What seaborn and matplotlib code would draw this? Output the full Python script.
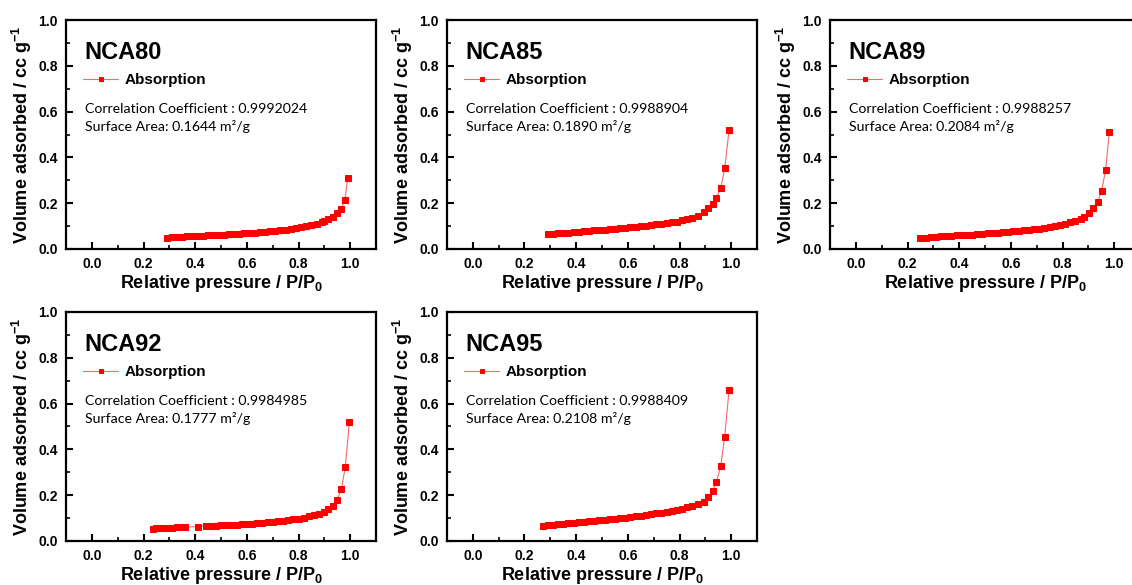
import numpy as np
import pandas as pd
import matplotlib
matplotlib.use('Agg')
import matplotlib.pyplot as plt
import seaborn as sns
from matplotlib.ticker import MultipleLocator

# --- Data ---
samples = ['NCA80', 'NCA85', 'NCA89', 'NCA92', 'NCA95']
corr_coef = ['0.9992024', '0.9988904', '0.9988257', '0.9984985', '0.9988409']
surface_area = ['0.1644', '0.1890', '0.2084', '0.1777', '0.2108']

p_nca80 = [0.29, 0.31, 0.33, 0.35, 0.37, 0.39, 0.41, 0.43, 0.45, 0.47, 0.49, 0.51,
           0.53, 0.55, 0.57, 0.59, 0.61, 0.63, 0.65, 0.67, 0.69, 0.71, 0.73, 0.75,
           0.77, 0.79, 0.81, 0.83, 0.85, 0.87, 0.89, 0.90, 0.916, 0.933, 0.949,
           0.965, 0.98, 0.99]
v_nca80 = [0.049, 0.051, 0.052, 0.053, 0.055, 0.056, 0.057, 0.058, 0.059, 0.060,
           0.062, 0.063, 0.064, 0.066, 0.067, 0.068, 0.070, 0.071, 0.073, 0.075,
           0.077, 0.079, 0.081, 0.084, 0.087, 0.091, 0.094, 0.099, 0.104, 0.110,
           0.117, 0.122, 0.131, 0.141, 0.157, 0.176, 0.214, 0.31]

p_nca85 = [0.29, 0.31, 0.33, 0.35, 0.37, 0.39, 0.41, 0.43, 0.45, 0.47, 0.49, 0.51,
           0.53, 0.55, 0.57, 0.59, 0.61, 0.63, 0.65, 0.67, 0.69, 0.71, 0.73, 0.75,
           0.77, 0.79, 0.81, 0.83, 0.85, 0.87, 0.896, 0.911, 0.928, 0.943, 0.96,
           0.975, 0.992]
v_nca85 = [0.064, 0.066, 0.068, 0.070, 0.072, 0.074, 0.076, 0.078, 0.080, 0.081,
           0.083, 0.084, 0.086, 0.088, 0.090, 0.092, 0.094, 0.096, 0.099, 0.101,
           0.104, 0.107, 0.110, 0.113, 0.117, 0.120, 0.125, 0.130, 0.136, 0.144,
           0.162, 0.178, 0.196, 0.224, 0.268, 0.352, 0.52]

p_nca89 = [0.25, 0.27, 0.29, 0.31, 0.33, 0.35, 0.37, 0.39, 0.41, 0.43, 0.45, 0.47,
           0.49, 0.51, 0.53, 0.55, 0.57, 0.59, 0.61, 0.63, 0.65, 0.67, 0.69, 0.71,
           0.73, 0.75, 0.77, 0.79, 0.81, 0.83, 0.85, 0.87, 0.885, 0.903, 0.919,
           0.936, 0.951, 0.967, 0.981]
v_nca89 = [0.049, 0.050, 0.052, 0.053, 0.055, 0.056, 0.058, 0.059, 0.060, 0.062,
           0.063, 0.065, 0.066, 0.068, 0.069, 0.071, 0.073, 0.075, 0.077, 0.079,
           0.081, 0.084, 0.086, 0.089, 0.093, 0.096, 0.100, 0.105, 0.110, 0.116,
           0.124, 0.133, 0.141, 0.156, 0.178, 0.204, 0.253, 0.345, 0.51]

p_nca92 = [0.235, 0.25, 0.27, 0.29, 0.31, 0.33, 0.35, 0.36, 0.41, 0.44, 0.46, 0.48,
           0.50, 0.52, 0.54, 0.56, 0.58, 0.60, 0.62, 0.64, 0.66, 0.68, 0.70, 0.72,
           0.74, 0.76, 0.78, 0.80, 0.82, 0.84, 0.86, 0.88, 0.90, 0.916, 0.933,
           0.949, 0.966, 0.981, 0.997]
v_nca92 = [0.052, 0.055, 0.056, 0.057, 0.058, 0.059, 0.060, 0.060, 0.063, 0.065,
           0.066, 0.067, 0.068, 0.069, 0.070, 0.071, 0.073, 0.074, 0.076, 0.077,
           0.079, 0.081, 0.083, 0.086, 0.088, 0.091, 0.095, 0.097, 0.102, 0.107,
           0.113, 0.120, 0.127, 0.138, 0.153, 0.179, 0.227, 0.322, 0.52]

p_nca95 = [0.27, 0.29, 0.31, 0.33, 0.35, 0.37, 0.39, 0.41, 0.43, 0.45, 0.47, 0.49,
           0.51, 0.53, 0.55, 0.57, 0.59, 0.61, 0.63, 0.65, 0.67, 0.69, 0.71, 0.73,
           0.75, 0.77, 0.79, 0.81, 0.83, 0.85, 0.87, 0.896, 0.911, 0.928, 0.943,
           0.96, 0.975, 0.992]
v_nca95 = [0.066, 0.069, 0.071, 0.073, 0.075, 0.077, 0.080, 0.082, 0.084, 0.086,
           0.088, 0.090, 0.092, 0.095, 0.097, 0.100, 0.102, 0.105, 0.108, 0.111,
           0.114, 0.117, 0.121, 0.124, 0.128, 0.132, 0.136, 0.141, 0.147, 0.153,
           0.160, 0.172, 0.194, 0.220, 0.258, 0.329, 0.456, 0.659]

pressures = [p_nca80, p_nca85, p_nca89, p_nca92, p_nca95]
volumes = [v_nca80, v_nca85, v_nca89, v_nca92, v_nca95]

# --- Style ---
sns.set_style('white')
plt.rcParams['font.family'] = ['Liberation Sans', 'DejaVu Sans']
plt.rcParams['mathtext.fontset'] = 'custom'
plt.rcParams['mathtext.rm'] = 'Liberation Sans'
plt.rcParams['mathtext.bf'] = 'Liberation Sans:bold'
plt.rcParams['text.color'] = 'black'
plt.rcParams['axes.labelcolor'] = 'black'
plt.rcParams['xtick.color'] = 'black'
plt.rcParams['ytick.color'] = 'black'

W, H = 1132, 585
fig = plt.figure(figsize=(W / 100, H / 100), dpi=100)

col_left = [66, 447, 830]
row_top = [20, 312]
ax_w, ax_h = 310, 229

for i, name in enumerate(samples):
    r, c = divmod(i, 3)
    left = col_left[c] / W
    bottom = 1 - (row_top[r] + ax_h) / H
    ax = fig.add_axes([left, bottom, ax_w / W, ax_h / H])

    df = pd.DataFrame({'p': pressures[i], 'v': volumes[i]})
    sns.lineplot(data=df, x='p', y='v', ax=ax, color='#f26a6a', linewidth=0.8,
                 marker='s', markersize=5, markerfacecolor='#ff0000',
                 markeredgecolor='#ff0000', estimator=None, sort=False,
                 label='Absorption')

    ax.set_xlim(-0.1, 1.1)
    ax.set_ylim(0, 1.0)
    ax.xaxis.set_major_locator(MultipleLocator(0.2))
    ax.xaxis.set_minor_locator(MultipleLocator(0.1))
    ax.yaxis.set_major_locator(MultipleLocator(0.2))
    ax.yaxis.set_minor_locator(MultipleLocator(0.1))
    ax.set_xticks([0.0, 0.2, 0.4, 0.6, 0.8, 1.0])
    ax.tick_params(which='major', direction='in', length=5, width=1.5,
                   labelsize=10, pad=6)
    ax.tick_params(which='minor', direction='in', length=3, width=1.2)
    ax.tick_params(left=True, bottom=True, which='both')
    for lab in ax.get_xticklabels() + ax.get_yticklabels():
        lab.set_fontweight('bold')
    for sp in ax.spines.values():
        sp.set_linewidth(1.6)
        sp.set_color('black')

    ax.set_xlabel(r'Relative pressure / P/P$_{\mathbf{0}}$', fontsize=13,
                  fontweight='bold', labelpad=1)
    ax.set_ylabel(r'Volume adsorbed / cc g$^{\mathbf{-1}}$', fontsize=13,
                  fontweight='bold', labelpad=3)

    ax.text(0.058, 0.86, name, transform=ax.transAxes, fontsize=17,
            fontweight='bold', va='center', ha='left')
    ax.legend(loc='center left', bbox_to_anchor=(0.055, 0.738), frameon=False,
              handlelength=2.3, handletextpad=0.4, borderpad=0, markerscale=0.7,
              borderaxespad=0, prop={'weight': 'bold', 'size': 11})
    ax.text(0.062, 0.611, f'Correlation Coefficient : {corr_coef[i]}',
            transform=ax.transAxes, fontsize=10.2, family=['Lato', 'DejaVu Sans'],
            va='center', ha='left')
    ax.text(0.062, 0.533, f'Surface Area: {surface_area[i]} m\u00b2/g',
            transform=ax.transAxes, fontsize=10.2, family=['Lato', 'DejaVu Sans'],
            va='center', ha='left')

fig.savefig('out.png', dpi=100)
